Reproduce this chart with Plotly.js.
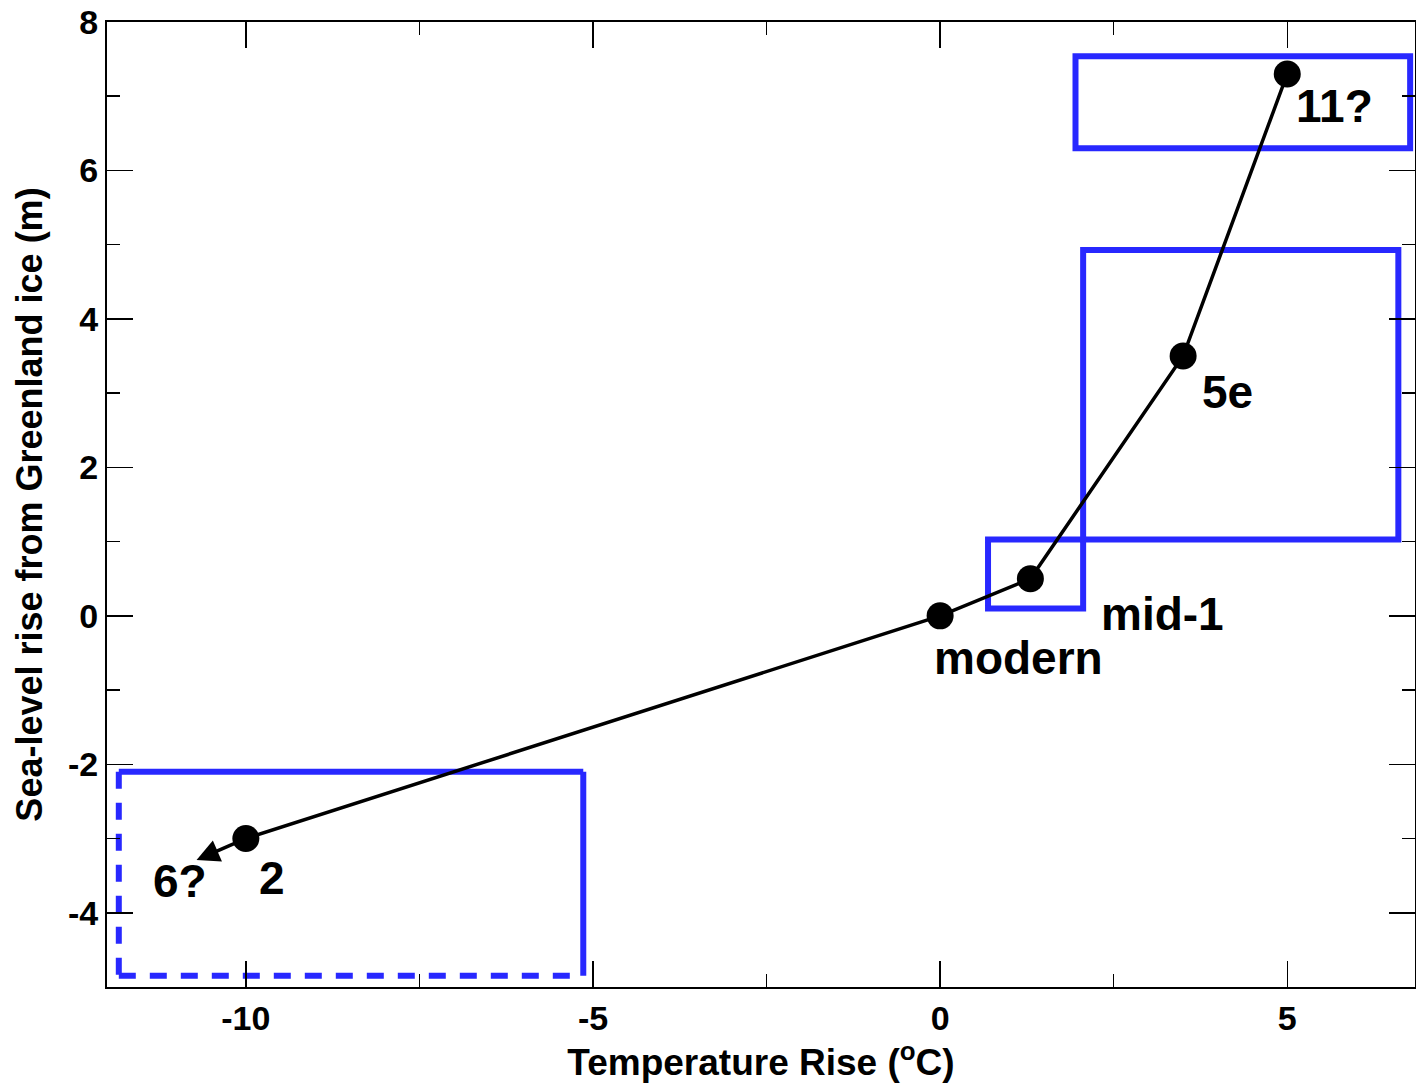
<!DOCTYPE html>
<html>
<head>
<meta charset="utf-8">
<script src="https://cdn.plot.ly/plotly-3.0.1.min.js"></script>
<style>
  html, body { margin: 0; padding: 0; background: #ffffff; }
  #chart { width: 1416px; height: 1092px; }
</style>
</head>
<body>
<div id="chart"></div>
<script>
// ---- data ----
const tempRise   = [-10, 0, 1.3, 3.5, 5];          // °C
const seaLevel   = [-3, 0, 0.5, 3.5, 7.3];          // m
const pointNames = ['2', 'modern', 'mid-1', '5e', '11?'];

// arrow from stage 2 towards stage 6?
const arrowTail  = [-10, -3];
const arrowHead  = [-10.71, -3.29];
const arrowName  = '6?';

// blue boxes (data coordinates)
const boxX0 = [1.95, 2.06, 0.69];
const boxX1 = [6.77, 6.60, 2.06];
const boxY0 = [6.30, 1.03, 0.10];
const boxY1 = [7.54, 4.93, 1.03];
// open-ended box (dashed left and bottom)
const openBoxX = [-11.83, -5.14];
const openBoxY = [-4.85, -2.10];

const xTickVals = [-10, -5, 0, 5];
const yTickVals = [-4, -2, 0, 2, 4, 6, 8];

// ---- styles ----
const BLUE = 'rgb(40,40,255)';
const FONT = 'Liberation Sans, Arial, Helvetica, sans-serif';

const shapes = [];
for (let i = 0; i < boxX0.length; i++) {
  shapes.push({type: 'rect', xref: 'x', yref: 'y', layer: 'below',
    x0: boxX0[i], x1: boxX1[i], y0: boxY0[i], y1: boxY1[i],
    line: {color: BLUE, width: 6}});
}
// open box: top + right solid
shapes.push({type: 'line', xref: 'x', yref: 'y', layer: 'below',
  x0: openBoxX[0], x1: openBoxX[1], y0: openBoxY[1], y1: openBoxY[1],
  line: {color: BLUE, width: 6}});
shapes.push({type: 'line', xref: 'x', yref: 'y', layer: 'below',
  x0: openBoxX[1], x1: openBoxX[1], y0: openBoxY[1], y1: openBoxY[0],
  line: {color: BLUE, width: 6}});
// left + bottom dashed
shapes.push({type: 'line', xref: 'x', yref: 'y', layer: 'below',
  x0: openBoxX[0], x1: openBoxX[0], y0: openBoxY[1], y1: openBoxY[0],
  line: {color: BLUE, width: 6, dash: '17px,14px'}});
shapes.push({type: 'line', xref: 'x', yref: 'y', layer: 'below',
  x0: openBoxX[0], x1: openBoxX[1], y0: openBoxY[0], y1: openBoxY[0],
  line: {color: BLUE, width: 6, dash: '17px,14px'}});

const labelFont = {family: FONT, size: 46, color: '#000', weight: 'bold'};
// label offsets (px) relative to each point
const labelShift = [[11, -39], [-8, -42], [69, -35], [17, -36], [7, -32]];

const annotations = pointNames.map((t, i) => ({
  x: tempRise[i], y: seaLevel[i], xref: 'x', yref: 'y',
  text: t, showarrow: false, xanchor: 'left', yanchor: 'middle',
  xshift: labelShift[i][0], yshift: labelShift[i][1], font: labelFont
}));
annotations.push({
  x: arrowHead[0], y: arrowHead[1], ax: arrowTail[0], ay: arrowTail[1],
  xref: 'x', yref: 'y', axref: 'x', ayref: 'y',
  showarrow: true, arrowhead: 2, arrowsize: 1.3, arrowwidth: 3.5, arrowcolor: '#000',
  text: ''
});
annotations.push({
  x: arrowTail[0], y: arrowTail[1], xref: 'x', yref: 'y',
  text: arrowName, showarrow: false, xanchor: 'left', yanchor: 'middle',
  xshift: -95, yshift: -42, font: labelFont
});

const trace = {
  x: tempRise, y: seaLevel, type: 'scatter', mode: 'lines+markers',
  line: {color: '#000', width: 3.5},
  marker: {color: '#000', size: 27},
  hoverinfo: 'skip'
};

const tickFont = {family: FONT, size: 34, color: '#000', weight: 'bold'};

const layout = {
  width: 1416, height: 1092,
  margin: {l: 107, r: 1, t: 22, b: 105, pad: 0},
  paper_bgcolor: '#fff', plot_bgcolor: '#fff',
  showlegend: false,
  xaxis: {
    range: [-12, 6.84], autorange: false,
    tickmode: 'array', tickvals: xTickVals, ticktext: xTickVals.map(String),
    ticks: 'inside', ticklen: 26, tickwidth: 1.5, tickcolor: '#000',
    minor: {dtick: 2.5, tick0: 0, ticks: 'inside', ticklen: 13, tickwidth: 1.5, tickcolor: '#000'},
    showline: true, linecolor: '#000', linewidth: 2, mirror: 'ticks',
    showgrid: false, zeroline: false,
    tickfont: tickFont,
    title: {text: 'Temperature Rise (<sup>o</sup>C)', font: {family: FONT, size: 37, color: '#000', weight: 'bold'}, standoff: 13}
  },
  yaxis: {
    range: [-5, 8], autorange: false,
    tickmode: 'array', tickvals: yTickVals, ticktext: yTickVals.map(String),
    ticks: 'inside', ticklen: 26, tickwidth: 1.5, tickcolor: '#000',
    minor: {dtick: 1, tick0: 0, ticks: 'inside', ticklen: 13, tickwidth: 1.5, tickcolor: '#000'},
    showline: true, linecolor: '#000', linewidth: 2, mirror: 'ticks',
    showgrid: false, zeroline: false,
    tickfont: tickFont,
    title: {text: 'Sea-level rise from Greenland ice (m)', font: {family: FONT, size: 36, color: '#000', weight: 'bold'}, standoff: 14}
  },
  shapes: shapes,
  annotations: annotations
};

Plotly.newPlot('chart', [trace], layout, {displayModeBar: false, staticPlot: true});
</script>
</body>
</html>
